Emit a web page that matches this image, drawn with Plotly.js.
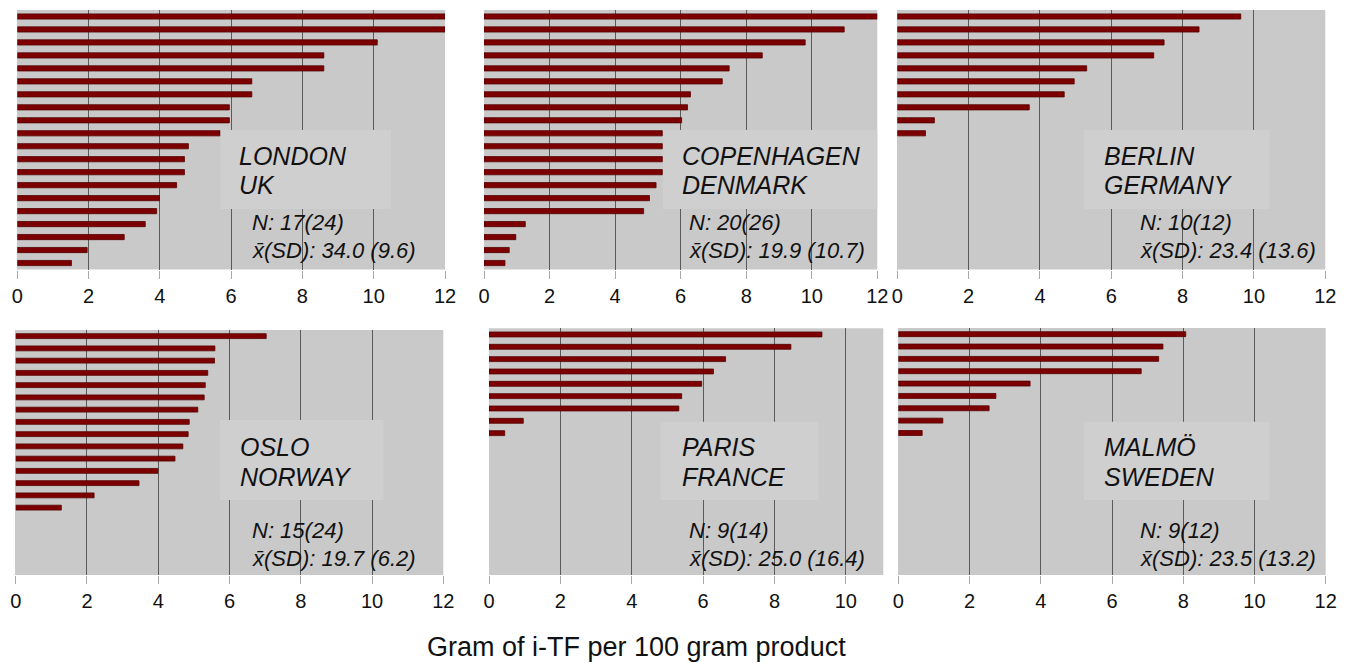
<!DOCTYPE html>
<html>
<head>
<meta charset="utf-8">
<script src="https://cdn.plot.ly/plotly-3.0.1.min.js"></script>
<style>html,body{margin:0;padding:0;background:#fff;}#chart{width:1349px;height:663px;}</style>
</head>
<body>
<div id="chart"></div>
<script>
// ---- data (grams i-TF per 100 g product, sorted per city) ----
const cityNames = ["LONDON", "COPENHAGEN", "BERLIN", "OSLO", "PARIS", "MALMÖ"];
const countryNames = ["UK", "DENMARK", "GERMANY", "NORWAY", "FRANCE", "SWEDEN"];
const nLabels = ["N: 17(24)", "N: 20(26)", "N: 10(12)", "N: 15(24)", "N: 9(14)", "N: 9(12)"];
const meanSdLabels = ["x\u0304(SD): 34.0 (9.6)", "x\u0304(SD): 19.9 (10.7)", "x\u0304(SD): 23.4 (13.6)",
                      "x\u0304(SD): 19.7 (6.2)", "x\u0304(SD): 25.0 (16.4)", "x\u0304(SD): 23.5 (13.2)"];
const tickVals = [0, 2, 4, 6, 8, 10, 12];
const tickText = ["0", "2", "4", "6", "8", "10", "12"];
const xTitle = "Gram of i-TF per 100 gram product";

const london     = [12, 12, 10.1, 8.6, 8.6, 6.58, 6.58, 5.95, 5.95, 5.69, 4.8, 4.69, 4.69, 4.47, 3.99, 3.91, 3.59, 3.0, 1.96, 1.52];
const copenhagen = [12, 10.99, 9.8, 8.49, 7.48, 7.27, 6.3, 6.21, 6.03, 5.44, 5.44, 5.44, 5.44, 5.25, 5.05, 4.87, 1.26, 0.97, 0.77, 0.64];
const berlin     = [9.63, 8.46, 7.48, 7.19, 5.31, 4.96, 4.68, 3.7, 1.04, 0.79];
const oslo       = [7.03, 5.59, 5.58, 5.39, 5.32, 5.29, 5.11, 4.87, 4.84, 4.69, 4.47, 3.99, 3.46, 2.2, 1.28];
const paris      = [9.33, 8.46, 6.63, 6.29, 5.96, 5.4, 5.32, 0.96, 0.44];
const malmo      = [8.07, 7.43, 7.31, 6.82, 3.7, 2.74, 2.55, 1.25, 0.67];
const series = [london, copenhagen, berlin, oslo, paris, malmo];
const SLOTS = 20;

// ---- layout geometry (pixels) ----
const W = 1349, H = 663;
const panels = [
  {x0: 17.3, x1: 445,   y0: 10,  y1: 269.5, xmax: 12,
   box: [220.5, 391, 130, 209],   lab: [237, 155.6, 184.6],  st: [250, 222.9, 250.6]},
  {x0: 484,  x1: 877.3, y0: 10,  y1: 269.5, xmax: 12,
   box: [663, 877.3, 130, 209], lab: [680, 155.6, 184.6], st: [687, 222.9, 250.6]},
  {x0: 897.3, x1: 1325.3, y0: 10, y1: 269.5, xmax: 12,
   box: [1084, 1269.3, 130, 209], lab: [1102, 155.6, 184.6], st: [1138, 222.9, 250.6]},
  {x0: 15.7, x1: 443.3, y0: 330, y1: 575, xmax: 12,
   box: [220, 383.3, 420, 500], lab: [238, 446.6, 476.6], st: [250, 530.6, 558.2]},
  {x0: 489,  x1: 883.3, y0: 328.3, y1: 575, xmax: 11.05,
   box: [660.7, 818.3, 421.7, 500], lab: [680, 446.6, 477.3], st: [687, 530.6, 558.2]},
  {x0: 898.3, x1: 1325.7, y0: 328, y1: 575, xmax: 12,
   box: [1084, 1269.3, 421.7, 500], lab: [1102, 446.6, 477.3], st: [1138, 530.6, 558.2]}
];
const px = v => v / W, py = v => 1 - v / H;

const BG = "#c9c9c9", BOX = "#cfcfcf", BAR = "#7c0000", BARLINE = "#560000", GRID = "#5a5a5a";
const tickFont = {family: "'Liberation Sans', Arial, sans-serif", size: 20, color: "#111"};
const labFont = {family: "'Liberation Sans', Arial, sans-serif", size: 25, color: "#111"};
const stFont = {family: "'Liberation Sans', Arial, sans-serif", size: 22, color: "#111"};

const traces = [];
const layout = {
  width: W, height: H, margin: {l: 0, r: 0, t: 0, b: 0},
  paper_bgcolor: "#fff", plot_bgcolor: BG, showlegend: false,
  shapes: [], annotations: [], bargap: 0.6
};

panels.forEach((p, i) => {
  const k = i === 0 ? "" : String(i + 1);
  const vals = series[i];
  traces.push({
    type: "bar", orientation: "h",
    x: vals, y: vals.map((_, j) => j),
    width: 0.4,
    marker: {color: BAR, line: {color: BARLINE, width: 0.8}},
    xaxis: "x" + k, yaxis: "y" + k, hoverinfo: "x"
  });
  layout["xaxis" + k] = {
    domain: [px(p.x0), px(p.x1)], anchor: "y" + k,
    range: [0, p.xmax], tickmode: "array",
    tickvals: tickVals.filter(v => v <= p.xmax), ticktext: tickText.filter((_, j) => tickVals[j] <= p.xmax),
    showgrid: true, gridcolor: GRID, gridwidth: 1,
    zeroline: true, zerolinecolor: BG, zerolinewidth: 1,
    showline: false, ticks: "outside", ticklen: 8, tickcolor: "#a8a8a8", tickwidth: 1,
    tickfont: tickFont, fixedrange: true
  };
  layout["yaxis" + k] = {
    domain: [py(p.y1), py(p.y0)], anchor: "x" + k,
    range: [SLOTS - 0.5, -0.5], showticklabels: false, showgrid: false,
    zeroline: false, showline: false, ticks: "", fixedrange: true
  };
  layout.shapes.push({
    type: "rect", xref: "paper", yref: "paper", layer: "above",
    x0: px(p.box[0]), x1: px(p.box[1]), y0: py(p.box[3]), y1: py(p.box[2]),
    fillcolor: BOX, line: {width: 0}
  });
  const lines = [
    [cityNames[i], p.lab[0], p.lab[1], labFont],
    [countryNames[i], p.lab[0], p.lab[2], labFont],
    [nLabels[i], p.st[0], p.st[1], stFont],
    [meanSdLabels[i], p.st[0], p.st[2], stFont]
  ];
  lines.forEach(([t, x, y, f]) => {
    layout.annotations.push({
      text: "<i>" + t + "</i>", xref: "paper", yref: "paper",
      x: px(x), y: py(y), xanchor: "left", yanchor: "middle",
      showarrow: false, font: f, align: "left"
    });
  });
});

layout.annotations.push({
  text: xTitle, xref: "paper", yref: "paper", x: px(636), y: py(647),
  xanchor: "center", yanchor: "middle", showarrow: false,
  font: {family: "'Liberation Sans', Arial, sans-serif", size: 27, color: "#111"}
});

Plotly.newPlot("chart", traces, layout, {staticPlot: true, displayModeBar: false});
</script>
</body>
</html>
